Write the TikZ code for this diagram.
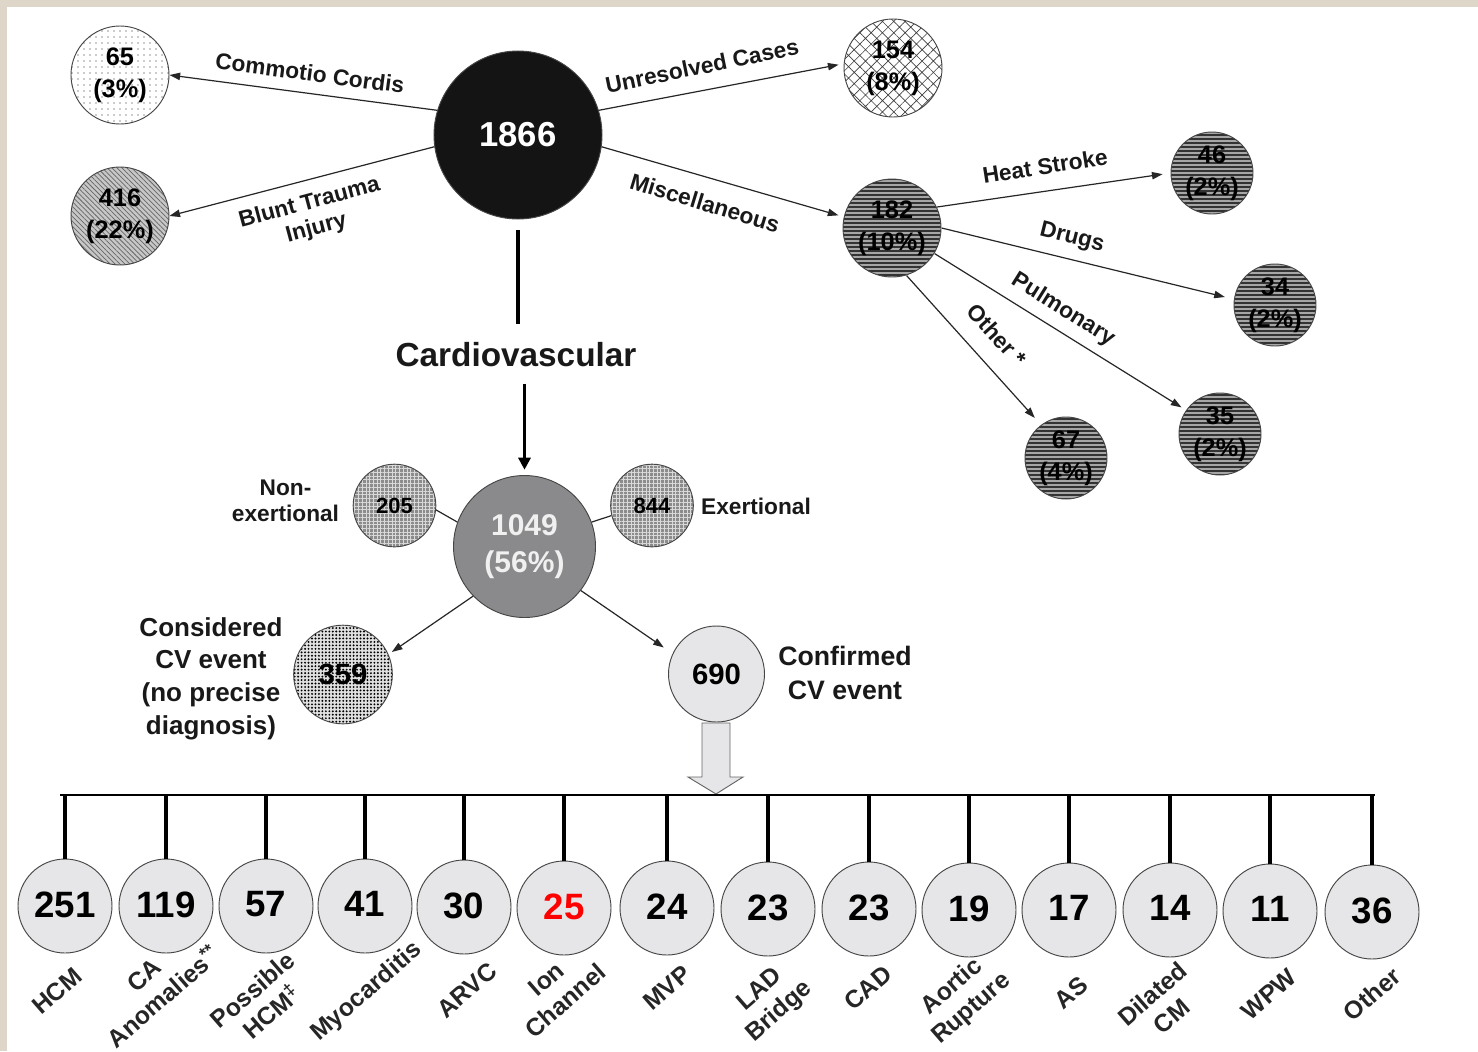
\documentclass[tikz,border=0pt]{standalone}
\usepackage{fontspec}
\setmainfont{Liberation Sans}
\usetikzlibrary{arrows.meta,patterns.meta}
\definecolor{beige}{RGB}{222,215,201}
\definecolor{cvgray}{RGB}{138,138,141}
\definecolor{lightg}{RGB}{230,230,232}
\definecolor{rimc}{RGB}{70,70,70}
\begin{document}
\begin{tikzpicture}[x=0.75pt,y=-0.75pt,
  disc/.style={circle,draw=rimc,line width=0.7pt,inner sep=0pt,minimum size=#1,align=center},
  numf/.style={font=\fontsize{19}{24}\selectfont\bfseries},
  smallnum/.style={font=\fontsize{16.5}{20}\selectfont\bfseries},
  lab/.style={font=\fontsize{17}{19.5}\selectfont\bfseries,inner sep=0pt,align=center,text=black!90},
  sidelab/.style={font=\fontsize{19.5}{24.5}\selectfont\bfseries,inner sep=0pt,align=center,text=black!90},
  blab/.style={font=\fontsize{18.5}{22}\selectfont\bfseries,inner sep=0pt,align=center,rotate=41,text=black!85},
  arr/.style={draw=black!85,line width=0.9pt,-{Triangle[length=8pt,width=5.5pt]}},
  link/.style={draw=black!85,line width=0.9pt},
  cvline/.style={draw=black,line width=2.4pt},
  hstripe/.style={preaction={fill=black!35},pattern={Lines[angle=0,distance=3pt,line width=1pt]},pattern color=black!80},
  bcirc/.style={disc=70.5pt,fill=lightg,font=\fontsize{27.5}{30}\selectfont\bfseries},
  tick/.style={line width=3.5pt,draw=black},
]
% background
\fill[beige] (0,0) rectangle (1478,1051);
\fill[white] (7,7) rectangle (1478,1051);
\useasboundingbox (0,0) rectangle (1478,1051);

% top level
\node[disc=126pt,fill=black!92,text=white,font=\fontsize{26}{30}\selectfont\bfseries] (n1866) at (518,135) {1866};
\node[disc=73.5pt,pattern={Dots[distance=4.5pt,radius=0.55pt]},pattern color=black!85,numf] (n65) at (120,75) {65\\(3\%)};
\node[disc=73.5pt,preaction={fill=black!22},pattern={Lines[angle=-45,distance=2.6pt,line width=0.55pt]},pattern color=black!60,numf] (n416) at (120,216) {416\\(22\%)};
\node[disc=73.5pt,pattern={Hatch[angle=45,distance=6pt,line width=0.5pt]},pattern color=black!75,numf] (n154) at (893,68) {154\\(8\%)};
\node[disc=73.5pt,hstripe,numf] (n182) at (892,228) {182\\(10\%)};
\node[disc=61.5pt,hstripe,numf] (n46) at (1212,173) {46\\(2\%)};
\node[disc=61.5pt,hstripe,numf] (n34) at (1275,305) {34\\(2\%)};
\node[disc=61.5pt,hstripe,numf] (n35) at (1220,434) {35\\(2\%)};
\node[disc=61.5pt,hstripe,numf] (n67) at (1066,458) {67\\(4\%)};

% labels on arrows
\node[lab,rotate=-7.5] (lcc) at (310,73) {Commotio Cordis};
\node[lab,rotate=15] (lbt) at (313,216) {Blunt Trauma\\Injury};
\node[lab,rotate=11.5] (luc) at (702,66) {Unresolved Cases};
\node[lab,rotate=-17] (lmi) at (705,203) {Miscellaneous};
\node[lab,rotate=9] (lhs) at (1045,166) {Heat Stroke};
\node[lab,rotate=-14] (ldr) at (1072,238) {Drugs};
\node[lab,rotate=-32] (lpu) at (1063,310) {Pulmonary};
\node[lab,rotate=-48] (lot) at (997,335) {Other *};

% arrows top
\draw[arr] (n1866.163) -- (n65.0);
\draw[arr] (n1866.188) -- (n416.0);
\draw[arr,shorten >=4pt] (n1866.17) -- (n154.175);
\draw[arr,shorten >=4pt] (n1866.-8) -- (n182.167);
\draw[arr,shorten >=6pt] (n182.25) -- (n46.180);
\draw[arr,shorten >=7pt] (n182.0) -- (n34.172);
\draw[arr,shorten >=4pt] (n182.-31) -- (n35.145);
\draw[arr,shorten >=7pt] (n182.-73) -- (n67.127);

% cardiovascular
\node[font=\fontsize{25}{28}\selectfont\bfseries,inner sep=0pt,text=black!90] (cv) at (516,355) {Cardiovascular};
\draw[cvline,shorten <=8pt,shorten >=14pt] (n1866.south) -- (n1866.south |- cv.north);

\node[disc=106.5pt,fill=cvgray,text=white!94!black,font=\fontsize{22.5}{28}\selectfont\bfseries] (n1049) at (524.5,546.5) {1049\\(56\%)};
\draw[cvline,-{Triangle[length=9pt,width=9pt]},shorten <=12pt,shorten >=4pt] (n1049.north |- cv.south) -- (n1049.north);

\node[disc=62pt,preaction={fill=black!45},pattern={Hatch[angle=0,distance=2.8pt,line width=0.5pt]},pattern color=white!85!black,smallnum] (n205) at (394.5,505.5) {205};
\node[disc=62pt,preaction={fill=black!45},pattern={Hatch[angle=0,distance=2.8pt,line width=0.5pt]},pattern color=white!85!black,smallnum] (n844) at (652,505.5) {844};
\draw[link] (n205.-6) -- (n1049.160);
\draw[link] (n1049.20) -- (n844.194);
\node[lab] (lnon) at (285.5,501) {Non-\\exertional};
\node[lab] (lexe) at (756,506) {Exertional};

\node[disc=74pt,preaction={fill=black!12},pattern={Dots[distance=2.6pt,radius=0.8pt]},pattern color=black,font=\fontsize{22}{26}\selectfont\bfseries] (n359) at (343,674.5) {359};
\node[disc=72pt,fill=lightg,font=\fontsize{22}{26}\selectfont\bfseries] (n690) at (716.5,674) {690};
\draw[arr,shorten >=3pt] (n1049.224) -- (n359.24);
\draw[arr,shorten >=8pt] (n1049.-38) -- (n690.155);
\node[sidelab] (lcons) at (211,678.5) {Considered\\CV event\\(no precise\\diagnosis)};
\node[sidelab,font=\fontsize{20}{25}\selectfont\bfseries] (lconf) at (845,673) {Confirmed\\CV event};

% hollow arrow
\draw[draw=black!60,fill=lightg,line width=0.7pt] (702,723) -- (730,723) -- (730,777) -- (743,777) -- (716,794) -- (688,777) -- (702,777) -- cycle;

% bar
\coordinate (barL) at (60,795);
\coordinate (barR) at (1375,795);
\draw[line width=1.5pt] (barL) -- (barR);

% bottom circles
\foreach \n/\x/\y/\v/\c in {1/65/906/251/black,2/166/906/119/black,3/266/906/57/black,4/365/906/41/black,5/464/907/30/black,6/564/908/25/red,7/667/908/24/black,8/768/909/23/black,9/869/909/23/black,10/969/910/19/black,11/1069/910/17/black,12/1170/910/14/black,13/1270/911/11/black,14/1372/912/36/black}{
  \node[bcirc,text=\c] (b\n) at (\x,\y) {\raisebox{2.5pt}{\v}};
  \draw[tick] (b\n.north |- barL) -- (b\n.north);
}

% bottom labels
\node[blab] (l1) at (57,991) {HCM};
\node[blab] (l2) at (154,986) {CA\\Anomalies\textsuperscript{**}};
\node[blab] (l3) at (262,1001) {Possible\\HCM\textsuperscript{‡}};
\node[blab] (l4) at (367,992) {Myocarditis};
\node[blab] (l5) at (467,990) {ARVC};
\node[blab] (l6) at (556,990) {Ion\\Channel};
\node[blab] (l7) at (667,988) {MVP};
\node[blab] (l8) at (770,1001) {LAD\\Bridge};
\node[blab] (l9) at (868,988) {CAD};
\node[blab] (l10) at (962,998) {Aortic\\Rupture};
\node[blab] (l11) at (1071,993) {AS};
\node[blab] (l12) at (1162,1005) {Dilated\\CM};
\node[blab] (l13) at (1269,994) {WPW};
\node[blab] (l14) at (1372,994) {Other};
\end{tikzpicture}
\end{document}
